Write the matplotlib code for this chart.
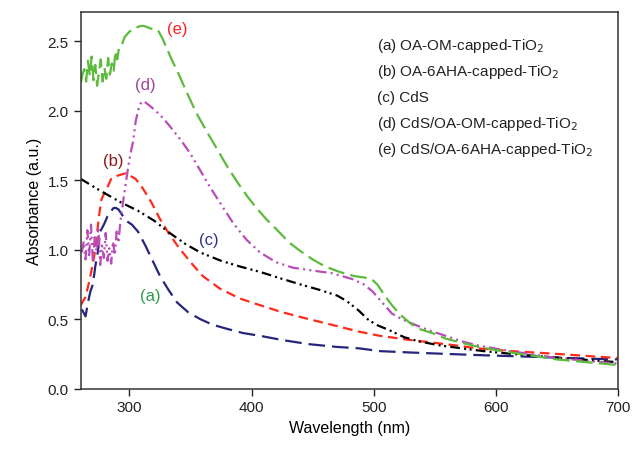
import numpy as np
import matplotlib
matplotlib.use("Agg")
import matplotlib.pyplot as plt

plt.rcParams['font.family'] = ['Liberation Sans', 'DejaVu Sans']
plt.rcParams['lines.scale_dashes'] = False

# (a) OA-OM-capped-TiO2
wl_a = [261, 264, 266, 268, 270, 272, 274, 276, 279, 282, 285, 287, 289, 291, 294, 297, 302, 307, 313, 319,
        325, 332, 339, 348, 358, 368, 380, 393, 407, 425, 447, 470, 488, 505, 530, 559, 590, 627, 660, 700]
abs_a = [0.57, 0.52, 0.62, 0.70, 0.75, 0.88, 0.98, 1.13, 1.18, 1.24, 1.28, 1.30, 1.30, 1.29, 1.25, 1.21, 1.18, 1.13, 1.03, 0.92,
         0.81, 0.71, 0.62, 0.55, 0.50, 0.46, 0.43, 0.40, 0.38, 0.35, 0.32, 0.30, 0.29, 0.27, 0.26, 0.25, 0.24, 0.23, 0.22, 0.21]

# (b) OA-6AHA-capped-TiO2
wl_b = [260, 264, 267, 270, 272, 275, 277, 279, 281, 285, 289, 293, 297, 301, 305, 311, 318, 325, 332, 340,
        350, 360, 374, 390, 407, 425, 447, 470, 488, 505, 530, 559, 585, 613, 650, 700]
abs_b = [0.60, 0.66, 0.77, 0.90, 1.00, 1.24, 1.36, 1.40, 1.43, 1.51, 1.53, 1.54, 1.55, 1.53, 1.51, 1.44, 1.34, 1.22, 1.12, 1.02,
         0.91, 0.81, 0.72, 0.65, 0.60, 0.55, 0.50, 0.45, 0.41, 0.38, 0.35, 0.32, 0.29, 0.27, 0.25, 0.22]

# (c) CdS
wl_c = [260, 275, 293, 307, 320, 333, 346, 358, 375, 390, 407, 425, 440, 456, 470, 478, 488, 495, 502, 513,
        525, 537, 555, 572, 590, 613, 640, 670, 700]
abs_c = [1.51, 1.43, 1.34, 1.28, 1.21, 1.12, 1.04, 0.98, 0.92, 0.88, 0.84, 0.79, 0.75, 0.71, 0.67, 0.63, 0.56, 0.50, 0.46, 0.42,
         0.37, 0.34, 0.31, 0.29, 0.27, 0.25, 0.23, 0.21, 0.19]

# (d) CdS/OA-OM-capped-TiO2
wl_d = [261, 262.5, 264, 265.5, 267, 268.5, 270, 271.5, 273, 274.5, 276, 277.5, 279, 280.5, 282, 283.5, 285, 286.5, 288, 289.5,
        291, 292.5, 295, 297, 299, 301, 303, 305, 307, 309, 311, 313, 316, 320, 325, 332, 342, 350, 358, 366,
        374, 385, 396, 407, 420, 434, 450, 466, 482, 492, 499, 507, 515, 523, 531, 545, 559, 572, 586, 605,
        627, 650, 675, 700]
abs_d = [0.98, 1.06, 0.93, 1.14, 0.96, 1.18, 0.91, 1.09, 0.99, 1.16, 0.89, 1.03, 0.94, 1.12, 0.92, 1.01, 0.90, 1.06, 0.96, 1.13,
         1.05, 1.20, 1.36, 1.48, 1.60, 1.70, 1.78, 1.92, 2.00, 2.05, 2.07, 2.06, 2.04, 2.01, 1.97, 1.90, 1.79, 1.69, 1.57, 1.45,
         1.34, 1.19, 1.07, 0.98, 0.91, 0.87, 0.85, 0.83, 0.79, 0.75, 0.70, 0.62, 0.54, 0.50, 0.47, 0.42, 0.38, 0.34, 0.31, 0.28,
         0.25, 0.22, 0.20, 0.18]

# (e) CdS/OA-6AHA-capped-TiO2
wl_e = [260, 261.5, 263, 264.5, 266, 267.5, 269, 270.5, 272, 273.5, 275, 276.5, 278, 279.5, 281, 282.5, 284, 285.5, 287, 288.5,
        290, 291.5, 294, 296, 298, 300, 303, 306, 309, 312, 315, 318, 321, 324, 327, 330, 335, 340, 347, 355,
        364, 372, 380, 388, 396, 404, 412, 420, 431, 440, 450, 460, 472, 484, 492, 498, 503, 509, 515, 522,
        530, 537, 548, 559, 572, 586, 605, 627, 650, 675, 700]
abs_e = [2.20, 2.26, 2.30, 2.21, 2.36, 2.25, 2.39, 2.22, 2.33, 2.18, 2.28, 2.37, 2.21, 2.31, 2.23, 2.38, 2.26, 2.34, 2.28, 2.43,
         2.37, 2.46, 2.48, 2.53, 2.55, 2.57, 2.58, 2.60, 2.61, 2.61, 2.60, 2.59, 2.59, 2.57, 2.52, 2.46, 2.36, 2.27, 2.13, 1.98,
         1.84, 1.72, 1.60, 1.49, 1.39, 1.30, 1.22, 1.15, 1.05, 0.99, 0.93, 0.88, 0.84, 0.81, 0.80, 0.79, 0.75, 0.67, 0.60, 0.53,
         0.47, 0.43, 0.40, 0.36, 0.33, 0.30, 0.27, 0.24, 0.21, 0.19, 0.17]

legend_lines = ["(a) OA-OM-capped-TiO$_2$",
                "(b) OA-6AHA-capped-TiO$_2$",
                "(c) CdS",
                "(d) CdS/OA-OM-capped-TiO$_2$",
                "(e) CdS/OA-6AHA-capped-TiO$_2$"]

fig = plt.figure(figsize=(6.35, 4.52), dpi=100)
ax = fig.add_axes([0.127, 0.138, 0.846, 0.833])

ax.plot(wl_a, abs_a, color='#26267a', lw=1.6, dashes=(12, 5))
ax.plot(wl_b, abs_b, color='#ff2a1a', lw=1.6, dashes=(7, 4))
ax.plot(wl_c, abs_c, color='black', lw=1.6, dashes=(7, 3, 1.5, 2.5, 1.5, 3))
ax.plot(wl_d, abs_d, color='#b84db8', lw=1.6, dashes=(8, 3, 1.5, 3, 1.5, 3))
ax.plot(wl_e, abs_e, color='#5dbb3c', lw=1.6, dashes=(12, 4.5))

ax.set_xlim(260, 700)
ax.set_ylim(0, 2.71)
ax.set_xticks([300, 400, 500, 600, 700])
ax.set_yticks([0.0, 0.5, 1.0, 1.5, 2.0, 2.5])
ax.set_yticklabels(['0.0', '0.5', '1.0', '1.5', '2.0', '2.5'])
ax.tick_params(direction='out', length=5, width=1, labelsize=11, colors='#222222')
for s in ax.spines.values():
    s.set_linewidth(1.1)
    s.set_color('#333333')

ax.set_xlabel('Wavelength (nm)', fontsize=11.5)
ax.set_ylabel('Absorbance (a.u.)', fontsize=11.5)

# curve tags
ax.text(339, 2.59, '(e)', color='#ff2020', fontsize=12, ha='center', va='center')
ax.text(313, 2.19, '(d)', color='#a040a0', fontsize=12, ha='center', va='center')
ax.text(287, 1.64, '(b)', color='#8b1a1a', fontsize=12, ha='center', va='center')
ax.text(365, 1.07, '(c)', color='#2e3192', fontsize=12, ha='center', va='center')
ax.text(317, 0.67, '(a)', color='#2e9b48', fontsize=12, ha='center', va='center')

for i, s in enumerate(legend_lines):
    ax.text(0.552, 0.913 - i * 0.069, s, transform=ax.transAxes, fontsize=11,
            ha='left', va='center', color='#222222')

fig.savefig('out.png', dpi=100)
